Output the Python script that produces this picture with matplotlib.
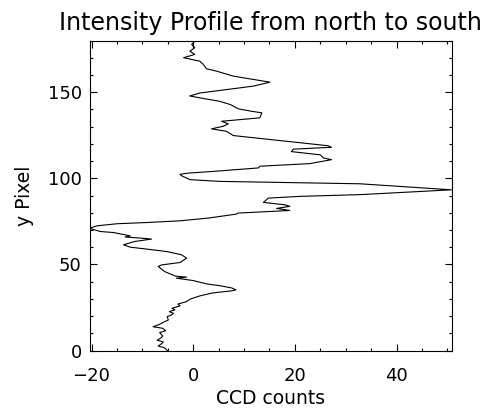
import matplotlib
matplotlib.use("Agg")
import matplotlib.pyplot as plt
from matplotlib.ticker import MultipleLocator

# ------------------------------
# Profile (y pixel, CCD counts)
# ------------------------------
y_pix = [0.0, 1.5, 2.6, 4.0, 5.0, 6.0, 7.2, 8.4, 10.4, 11.5, 12.9, 13.8, 15.2,
         16.5, 17.7, 19.7, 20.6, 21.6, 22.6, 23.6, 24.5, 25.9, 27.0, 27.8, 28.4,
         29.8, 31.7, 33.3, 33.8, 34.6, 35.2, 36.3, 37.5, 38.7, 40.6, 42.0, 42.6,
         43.2, 45.8, 48.8, 49.7, 51.1, 53.6, 55.6, 57.5, 58.9, 60.0, 61.4, 63.3,
         64.7, 65.3, 65.9, 66.6, 68.5, 69.1, 70.5, 71.1, 72.4, 73.6, 74.3, 75.3,
         76.9, 79.2, 79.8, 81.3, 82.5, 83.7, 84.6, 86.0, 88.5, 89.5, 90.5, 93.3,
         96.8, 98.2, 99.2, 101.5, 102.3, 103.0, 104.0, 106.0, 107.0, 108.5, 110.8,
         111.8, 113.6, 115.5, 116.9, 118.0, 118.9, 124.8, 127.3, 128.7, 130.2,
         131.6, 133.1, 135.1, 138.0, 138.9, 140.3, 142.8, 144.7, 146.7, 147.8,
         148.6, 149.5, 153.5, 155.8, 157.4, 159.3, 162.2, 163.6, 166.1, 168.0,
         170.0, 171.9, 173.8, 175.8, 177.7, 179.6, 180.0]
counts = [-5.1, -5.6, -6.9, -6.2, -5.9, -7.1, -6.4, -6.0, -6.6, -5.4, -6.0, -7.9, -6.6,
          -5.8, -4.9, -5.1, -4.3, -3.9, -4.7, -3.6, -4.2, -2.6, -3.0, -2.0, -1.3,
          -0.65, 1.3, 3.6, 4.9, 7.5, 8.4, 7.6, 5.5, 2.6, 0.0, -3.3, -1.3,
          -3.5, -5.6, -6.9, -6.2, -2.6, -1.3, -2.3, -5.3, -9.2, -12.4, -13.7, -11.5,
          -8.2, -10.5, -13.4, -12.4, -15.7, -18.3, -19.9, -20.3, -18.9, -15.0, -9.2, -2.6,
          3.0, 8.5, 8.8, 19.0, 16.4, 19.0, 18.0, 13.8, 14.8, 21.0, 32.8, 50.8,
          32.8, 5.2, -0.65, -2.3, -2.6, -1.0, 4.0, 12.8, 13.1, 22.9, 27.2,
          25.6, 25.0, 19.3, 19.7, 27.2, 26.5, 7.9, 6.5, 3.6, 5.9,
          6.9, 5.6, 13.1, 13.5, 11.5, 8.9, 7.3, 5.2, 1.3, -0.7,
          0.3, 1.3, 11.8, 15.1, 11.8, 7.9, 4.6, 2.6, 2.0, 1.3,
          -1.9, 0.3, -0.65, 0.3, -0.3, 0.3, 0.5]

plt.rcParams['font.family'] = ['DejaVu Sans']

fig = plt.figure(figsize=(4.94, 4.08), dpi=100)
ax = fig.add_axes([90/494, 1 - 350.5/408, 361.5/494, 310/408])

ax.plot(counts, y_pix, color='black', lw=0.8)

# IDL style: exact data range, ticks on every side pointing in
ax.set_xlim(min(counts), max(counts))
ax.set_ylim(0, 180)
ax.xaxis.set_major_locator(MultipleLocator(20))
ax.xaxis.set_minor_locator(MultipleLocator(5))
ax.yaxis.set_major_locator(MultipleLocator(50))
ax.yaxis.set_minor_locator(MultipleLocator(10))
ax.tick_params(which='both', direction='in', top=True, right=True, width=0.8,
               labelsize=13)
ax.tick_params(which='major', length=5)
ax.tick_params(which='minor', length=2.5)
ax.tick_params(axis='x', which='major', pad=12)
ax.tick_params(axis='y', which='major', pad=6)
for s in ax.spines.values():
    s.set_linewidth(0.8)

ax.set_xlabel("CCD counts", fontsize=13.5, labelpad=3)
ax.set_ylabel("y Pixel", fontsize=13.5, labelpad=10)

fig.text(270.7/494, 1 - 30/408, "Intensity Profile from north to south",
         ha='center', va='baseline', fontsize=17)

fig.savefig("out.png", dpi=100)
